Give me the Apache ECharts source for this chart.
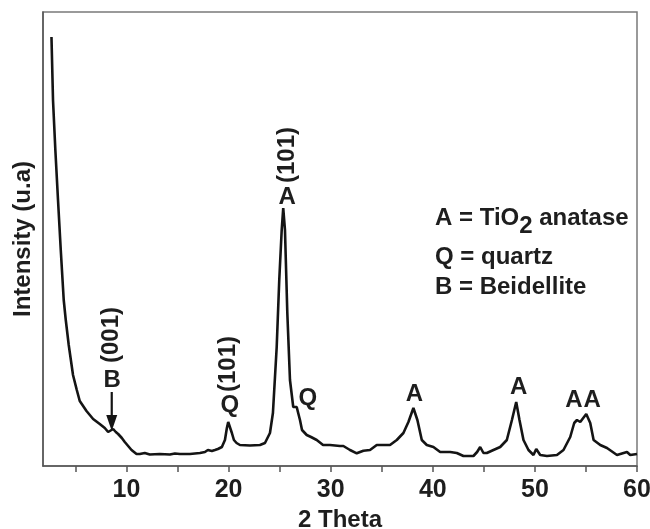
<!DOCTYPE html>
<html><head><meta charset="utf-8">
<script src="https://cdn.jsdelivr.net/npm/echarts@6/dist/echarts.min.js"></script>
<style>html,body{margin:0;padding:0;background:#fff}#c{width:650px;height:529px}</style>
</head><body><div id="c"></div>
<script>
// ---- data ----
const twoTheta = [2.65,2.80,3.03,3.29,3.56,3.85,4.05,4.34,4.76,5.13,
  5.42,6.08,6.73,7.38,7.87,8.20,8.36,8.69,8.95,9.18,
  9.54,9.83,10.16,10.49,10.98,11.30,11.79,12.28,13.26,14.25,
  14.74,15.23,16.21,17.19,17.68,17.97,18.36,18.66,18.95,19.34,
  19.64,19.83,19.96,20.13,20.32,20.52,20.78,21.11,22.09,23.07,
  23.56,24.05,24.34,24.71,24.96,25.20,25.35,25.52,25.75,26.01,
  26.33,26.67,26.79,26.99,27.19,27.65,28.07,28.63,29.25,29.93,
  30.91,31.24,31.89,32.55,33.20,33.85,34.51,35.81,36.47,37.12,
  37.61,38.10,38.49,38.92,39.41,40.06,40.72,41.70,42.35,43.00,
  43.98,44.34,44.64,44.96,45.29,45.94,46.60,47.25,47.75,48.17,
  48.49,48.88,49.37,49.86,50.13,50.52,51.18,52.16,52.80,53.46,
  53.85,54.12,54.44,55.03,55.42,55.75,56.40,57.06,58.04,58.69,
  59.02,59.34,60.00];
const intensity = [429,366,316,266,216,166,146,121,91,76,
  65,55,47,42,38,34,36,37,34,32,
  28,24,20,16,12,12,13,11.5,12,11.5,
  12.5,12,12,13,14,16,15,16,17,19,
  26,38,44,42,33,26,23,21,20.5,21,
  23,33,53,119,186,236,258,236,153,86,
  59,59,54,46,36,31,29,26,21,21,
  20,20,16,12.7,15.3,16,21,21,26,33,
  44,58,46,26,21,19,14,14,13,10,
  10,14,19,13,13,16,19,26,46,64,
  46,26,16,11,17,11,10,11,16,29,
  43,46,44,52,43,26,21,18,11,13,
  14,11,12];
const xTickValues = [5,10,15,20,25,30,35,40,45,50,55,60];
const xLabelValues = [10,20,30,40,50,60];
const peakTheta = [8.7, 19.96, 25.35, 26.67, 38.10, 48.17, 54.12, 55.03];
const peakPhase = ['B','Q','A','Q','A','A','A','A'];
const peakPlane = ['(001)','(101)','(101)','','','','',''];
const legendLines = [['A = TiO','2',' anatase'],['Q = quartz'],['B = Beidellite']];

// ---- layout ----
const FONT = '"Liberation Sans", Arial, Helvetica, sans-serif';
const TXT = '#1e1e1e';
const chart = echarts.init(document.getElementById('c'), null, {renderer:'canvas'});
chart.setOption({
  animation:false,
  backgroundColor:'#fff',
  grid:{left:43,right:13,top:12,bottom:63,show:true,borderColor:'#7a7a7a',borderWidth:1.5,
    containLabel:false,outerBoundsMode:'none'},
  xAxis:{type:'value',min:1.82,max:60,
    name:'2 Theta',nameLocation:'middle',nameGap:38,
    nameTextStyle:{fontFamily:FONT,fontWeight:'bold',fontSize:24,color:TXT},
    axisLine:{show:true,onZero:false,lineStyle:{color:'#555',width:1.5}},
    axisTick:{show:true,inside:false,length:6,customValues:xTickValues,lineStyle:{color:'#555',width:1.5}},
    axisLabel:{customValues:xLabelValues,margin:12,fontFamily:FONT,fontWeight:'bold',fontSize:25,color:TXT},
    splitLine:{show:false}},
  yAxis:{type:'value',min:0,max:454,
    name:'Intensity (u.a)',nameLocation:'middle',nameGap:8,
    nameTextStyle:{fontFamily:FONT,fontWeight:'bold',fontSize:24,color:TXT},
    axisLine:{show:true,onZero:false,lineStyle:{color:'#555',width:1.5}},
    axisTick:{show:false},axisLabel:{show:false},splitLine:{show:false}},
  series:[{type:'line',data:twoTheta.map((t,i)=>[t,intensity[i]]),
    showSymbol:false,symbol:'none',lineStyle:{color:'#141414',width:2.6},silent:true}]
});

// annotation layout (pixel offsets from peak x, and label heights)
const letterLayout = [[-1,380],[1.7,405],[4,197],[11,398],[1,394],[2.5,387.5],[-3,400],[6,400]];
const planeLayout  = [[-2,335],[-0.3,364],[3.7,155],null,null,null,null,null];
const g = [];
const font = (s)=>({fontFamily:FONT,fontWeight:'bold',fontSize:s,fill:TXT});
peakTheta.forEach((t,i)=>{
  const x = chart.convertToPixel({xAxisIndex:0}, t);
  const L = letterLayout[i];
  g.push({type:'text',x:x+L[0],y:L[1],style:Object.assign({text:peakPhase[i],align:'center',verticalAlign:'middle'},font(24))});
  if (peakPlane[i]) {
    const P = planeLayout[i];
    g.push({type:'text',x:x+P[0],y:P[1],rotation:Math.PI/2,style:Object.assign({text:peakPlane[i],align:'center',verticalAlign:'middle'},font(24))});
  }
});
// arrow to the Beidellite reflection
{
  const ax = chart.convertToPixel({xAxisIndex:0}, peakTheta[0]) - 1.5;
  g.push({type:'line',shape:{x1:ax,y1:392,x2:ax,y2:418},style:{stroke:'#141414',lineWidth:2.2}});
  g.push({type:'polygon',shape:{points:[[ax-5.5,415],[ax+5.5,415],[ax,431]]},style:{fill:'#141414'}});
}
// phase legend
const ctx = document.createElement('canvas').getContext('2d');
const legendY = [218,257,287.5];
const legFont = 24;
ctx.font = 'bold '+legFont+'px '+FONT;
legendLines.forEach((parts,li)=>{
  let x = 435;
  parts.forEach((p,pi)=>{
    const sub = (li===0 && pi===1);
    g.push({type:'text',x:x,y:legendY[li]+(sub?8:0),style:Object.assign({text:p,align:'left',verticalAlign:'middle'},font(legFont))});
    x += ctx.measureText(p).width;
  });
});
chart.setOption({graphic:g});
</script>
</body></html>
